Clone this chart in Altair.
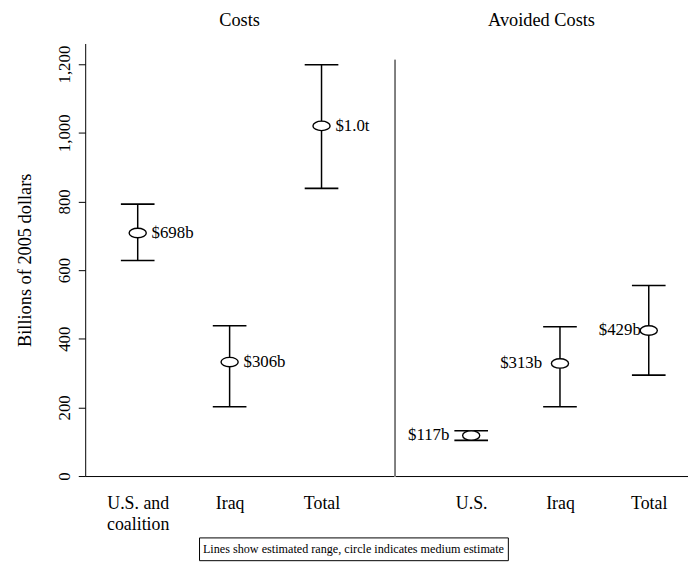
import altair as alt
import pandas as pd

FONT = "Liberation Serif"

# ---- data ----
cost_cats = ["U.S. and coalition", "Iraq", "Total"]
cost_low = [628, 202, 838]
cost_mid = [708, 332, 1020]
cost_high = [792, 438, 1198]
cost_text = ["$698b", "$306b", "$1.0t"]

avoid_cats = ["U.S.", "Iraq", "Total"]
avoid_low = [104, 202, 294]
avoid_mid = [118, 328, 424]
avoid_high = [132, 435, 555]
avoid_text = ["$117b", "$313b", "$429b"]

y_ticks = [0, 200, 400, 600, 800, 1000, 1200]
y_top = [1260]
divider_top = [1213]
panel_titles = ["Costs", "Avoided Costs"]
y_title = "Billions of 2005 dollars"
note_text = ["Lines show estimated range, circle indicates medium estimate"]

ELLIPSE = "M-1,0A1,0.55,0,1,0,1,0A1,0.55,0,1,0,-1,0Z"
H = 437


def frame(cats, low, mid, high, text):
    return pd.DataFrame({"cat": cats, "low": low, "mid": mid, "high": high, "text": text})


costs = frame(cost_cats, cost_low, cost_mid, cost_high, cost_text)
avoided = frame(avoid_cats, avoid_low, avoid_mid, avoid_high, avoid_text)

yscale = alt.Scale(domain=[0, y_top[0]], nice=False, zero=True)


def yaxis(show):
    if not show:
        return None
    return alt.Axis(
        values=y_ticks, labelExpr="format(datum.value, ',')", labelAngle=270,
        labelAlign="center", labelBaseline="bottom", tickSize=7, tickWidth=1,
        grid=False, title=y_title, titleFont=FONT, titleFontSize=18.5,
        titleFontWeight="normal", titlePadding=21, labelFont=FONT, labelFontSize=17,
        labelPadding=5, domainColor="black", tickColor="black",
        labelColor="black", titleColor="black",
    )


def xenc(cats, padding, align):
    return alt.X(
        "cat:N", sort=cats, title=None,
        scale=alt.Scale(type="point", padding=padding, align=align),
        axis=alt.Axis(
            labelAngle=0, ticks=False, domain=True, domainColor="black", domainWidth=1,
            labelExpr="datum.label == 'U.S. and coalition' ? ['U.S. and', 'coalition'] : datum.label",
            labelFont=FONT, labelFontSize=18, labelColor="black", labelPadding=19,
            labelLineHeight=21, grid=False,
        ),
    )


def panel(df, cats, title, width, padding, align, show_axis, text_layers):
    base = alt.Chart(df)
    x = xenc(cats, padding, align)
    stem = base.mark_rule(color="black", strokeWidth=1.5).encode(
        x=x,
        y=alt.Y("low:Q", scale=yscale, axis=yaxis(show_axis)),
        y2="high:Q",
    )
    caps = base.transform_fold(["low", "high"], as_=["end", "val"]).mark_tick(
        color="black", size=34, thickness=1.6, orient="horizontal", opacity=1
    ).encode(
        x=x,
        y=alt.Y("val:Q", scale=yscale, axis=yaxis(show_axis)),
    )
    dot = base.mark_point(
        shape=ELLIPSE, size=300, filled=True, fill="white", stroke="black",
        strokeWidth=1.4, opacity=1, fillOpacity=1,
    ).encode(
        x=x,
        y=alt.Y("mid:Q", scale=yscale, axis=yaxis(show_axis)),
    )
    layers = [stem, caps, dot]
    for flt, align_t, dx in text_layers:
        t = base
        if flt is not None:
            t = t.transform_filter(alt.datum.cat == flt)
        layers.append(
            t.mark_text(align=align_t, baseline="middle", dx=dx, font=FONT,
                        fontSize=17, color="black").encode(
                x=x,
                y=alt.Y("mid:Q", scale=yscale, axis=yaxis(show_axis)),
                text="text:N",
            )
        )
    return alt.layer(*layers).properties(
        width=width, height=H,
        title=alt.TitleParams(title, font=FONT, fontSize=18.5, fontWeight="normal",
                              color="black", anchor="middle", offset=14),
    )


left = panel(costs, cost_cats, panel_titles[0], 312, 0.68, 0.42, True,
             [(None, "left", 14)])

divider = alt.Chart(pd.DataFrame({"top": divider_top, "bottom": [0]})).mark_rule(
    color="black", strokeWidth=1
).encode(
    x=alt.value(0),
    y=alt.Y("top:Q", scale=yscale, axis=None),
    y2="bottom:Q",
)

right_core = panel(avoided, avoid_cats, panel_titles[1], 296, 0.65, 0.66, False,
                   [("U.S.", "right", -22), ("Iraq", "right", -18), ("Total", "right", -8)])
right = alt.layer(right_core, divider).properties(width=296, height=H)

note = alt.Chart(pd.DataFrame({"t": note_text})).mark_text(
    font=FONT, fontSize=12.3, color="black"
).encode(text="t:N").properties(
    width=312, height=23,
    view=alt.ViewBackground(stroke="black", strokeWidth=1),
)
spacer = alt.Chart(pd.DataFrame({"t": []})).mark_point(opacity=0).properties(
    width=114, height=23
)

top = alt.hconcat(left, right, spacing=0)
bottom = alt.hconcat(spacer, note, spacing=0)
chart = alt.vconcat(top, bottom, spacing=3).properties(
    padding={"left": 8, "top": 0, "right": 0, "bottom": 0},
    background="white",
).configure_view(stroke=None)

chart.save("out.html", embed_options={"renderer": "svg", "actions": False})
